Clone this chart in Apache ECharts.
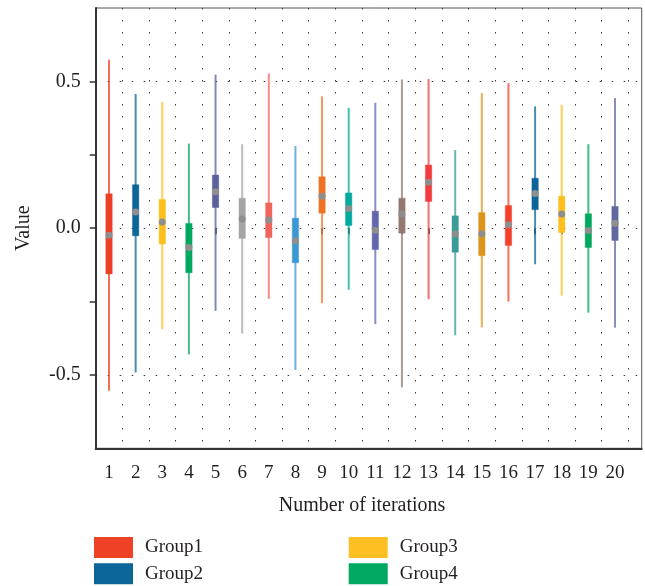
<!DOCTYPE html>
<html>
<head>
<meta charset="utf-8">
<script src="https://cdn.jsdelivr.net/npm/echarts@6/dist/echarts.min.js"></script>
<style>
html,body{margin:0;padding:0;background:#fff;}
#chart{width:645px;height:586px;}
</style>
</head>
<body>
<div id="chart"></div>
<script>
// ---- data ----
const categories = ['1','2','3','4','5','6','7','8','9','10','11','12','13','14','15','16','17','18','19','20'];
const lowValues    = [-0.554,-0.492,-0.344,-0.430,-0.282,-0.359,-0.241,-0.483,-0.256,-0.210,-0.327,-0.542,-0.242,-0.365,-0.338,-0.250,-0.123,-0.230,-0.288,-0.339];
const q1Values     = [-0.156,-0.026,-0.054,-0.152, 0.070,-0.035,-0.032,-0.118, 0.051, 0.009,-0.073,-0.017, 0.091,-0.082,-0.094,-0.059, 0.063,-0.015,-0.066,-0.042];
const medianValues = [-0.024, 0.055, 0.021,-0.066, 0.124, 0.031, 0.028,-0.043, 0.109, 0.067,-0.007, 0.048, 0.156,-0.020,-0.019, 0.012, 0.118, 0.048,-0.008, 0.017];
const q3Values     = [ 0.117, 0.148, 0.098, 0.016, 0.181, 0.102, 0.086, 0.034, 0.175, 0.120, 0.058, 0.102, 0.215, 0.042, 0.053, 0.077, 0.170, 0.109, 0.049, 0.074];
const highValues   = [ 0.574, 0.457, 0.430, 0.288, 0.523, 0.286, 0.527, 0.280, 0.449, 0.410, 0.427, 0.506, 0.508, 0.266, 0.460, 0.494, 0.415, 0.420, 0.286, 0.443];
const yTickValues  = [-0.5,-0.25,0,0.25,0.5];
const yLabelValues = [-0.5,0,0.5];
const legendGroups = ['Group1','Group2','Group3','Group4'];

// ---- styles ----
const boxColors = ['#EF3E23','#0B6599','#FDBF1E','#00A85E','#5B5F9C','#A5A5A7','#F0655B','#3B98D2','#F07223','#00A9A0',
                   '#6366AE','#927A70','#F23C3C','#3A9B97','#DC951B','#F2402A','#0B6599','#FDBF1E','#00A85E','#62689F'];
const legendColors = ['#EF4126','#0A6699','#FDBF21','#00A862'];
const FONT = 'Liberation Serif';
const TXT = '#231F20';
const dotLine = {color:'#3a3a3a', width:1, type:[1.5,10.5]};

const boxData = categories.map((c,i)=>[i, lowValues[i], q1Values[i], medianValues[i], q3Values[i], highValues[i]]);

const chart = echarts.init(document.getElementById('chart'), null, {renderer:'canvas'});
const option = {
  animation:false,
  backgroundColor:'#fff',
  grid:[
    {left:95.7, right:3.3, top:8, bottom:137.7, show:true, borderColor:'#555', borderWidth:1, backgroundColor:'transparent'},
    {left:95.7, right:16.7, top:8, bottom:137.7}
  ],
  xAxis:[
    {type:'value', gridIndex:0, min:0, max:1, axisLine:{show:true, onZero:false, lineStyle:{color:'#333', width:2}},
     axisTick:{show:false}, axisLabel:{show:false}, splitLine:{show:false}},
    {type:'category', gridIndex:1, data:categories, boundaryGap:true,
     axisLine:{show:false},
     axisTick:{show:true, alignWithLabel:true, length:6, lineStyle:{color:'#333', width:1.5}},
     axisLabel:{margin:15, fontFamily:FONT, fontSize:19, color:TXT},
     splitLine:{show:true, lineStyle:dotLine},
     name:'Number of iterations', nameLocation:'middle', nameGap:47,
     nameTextStyle:{fontFamily:FONT, fontSize:20, color:TXT}}
  ],
  yAxis:[
    {type:'value', gridIndex:0, min:-0.75, max:0.75, interval:0.25,
     axisLine:{show:true, lineStyle:{color:'#333', width:2}},
     axisTick:{show:true, length:6, customValues:yTickValues, lineStyle:{color:'#333', width:1.5}},
     axisLabel:{customValues:yLabelValues, margin:15, fontFamily:FONT, fontSize:20, color:TXT,
                formatter:v=>v.toFixed(1)},
     splitLine:{show:false},
     name:'Value', nameLocation:'middle', nameGap:62, nameRotate:90,
     nameTextStyle:{fontFamily:FONT, fontSize:20, color:TXT}},
    {type:'value', gridIndex:1, min:-0.75, max:0.75, interval:0.25, show:false}
  ],
  legend:[
    {data:legendGroups.slice(0,2), orient:'vertical', left:94, top:537, padding:0, itemGap:5.3,
     itemWidth:39, itemHeight:21, icon:'rect',
     textStyle:{fontFamily:FONT, fontSize:19, color:TXT, padding:[0,0,0,7]}},
    {data:legendGroups.slice(2,4), orient:'vertical', left:348.7, top:537, padding:0, itemGap:5.3,
     itemWidth:39, itemHeight:21, icon:'rect',
     textStyle:{fontFamily:FONT, fontSize:19, color:TXT, padding:[0,0,0,7]}}
  ],
  series:[
    {type:'line', xAxisIndex:0, yAxisIndex:0, data:[], silent:true, z:1, zlevel:0,
     markLine:{silent:true, symbol:'none', z:1, label:{show:false}, lineStyle:dotLine,
               data:yLabelValues.map(v=>({yAxis:v}))}},
    {type:'custom', xAxisIndex:1, yAxisIndex:1, data:boxData, z:10,
     encode:{x:0, y:[1,2,3,4,5]},
     renderItem:function(params, api){
       const i = api.value(0);
       const low = api.coord([i, api.value(1)]);
       const q1 = api.coord([i, api.value(2)]);
       const med = api.coord([i, api.value(3)]);
       const q3 = api.coord([i, api.value(4)]);
       const high = api.coord([i, api.value(5)]);
       const col = boxColors[params.dataIndex];
       const bw = 6.4;
       return {type:'group', children:[
         {type:'line', shape:{x1:low[0], y1:low[1], x2:high[0], y2:high[1]},
          style:{stroke:col, lineWidth:2, opacity:0.75}},
         {type:'rect', shape:{x:q3[0]-bw/2, y:q3[1], width:bw, height:q1[1]-q3[1]},
          style:{fill:col, stroke:col, lineWidth:1, strokeOpacity:0.4}},
         {type:'circle', shape:{cx:med[0], cy:med[1], r:3.5}, style:{fill:'#8E8E8E'}}
       ]};
     }},
    ...legendGroups.map((g,k)=>({type:'bar', name:g, xAxisIndex:1, yAxisIndex:1, data:[],
       itemStyle:{color:legendColors[k]}}))
  ]
};
chart.setOption(option);
</script>
</body>
</html>
